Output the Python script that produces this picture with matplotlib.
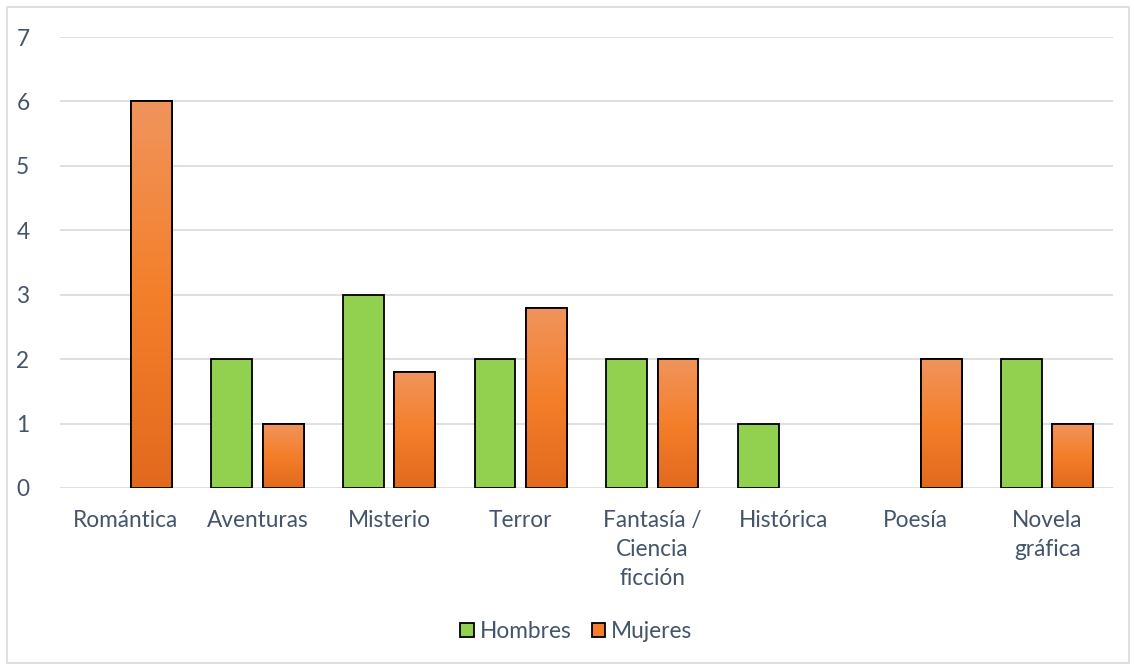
import matplotlib.pyplot as plt
import numpy as np
from matplotlib.colors import LinearSegmentedColormap
from matplotlib.patches import Rectangle, Patch

plt.rcParams['font.family'] = ['Lato', 'DejaVu Sans']

generos = ['Romántica', 'Aventuras', 'Misterio', 'Terror', 'Fantasía /\nCiencia\nficción',
           'Histórica', 'Poesía', 'Novela\ngráfica']
hombres = [0, 2, 3, 2, 2, 1, 0, 2]
mujeres = [6, 1, 1.8, 2.8, 2, 0, 2, 1]

texto = '#44546A'
verde = '#92D050'
naranja = '#F37D2C'
degradado = LinearSegmentedColormap.from_list('naranja', ['#E2691E', '#F47F2A', '#F0945C'])
tam = 16.3

fig = plt.figure(figsize=(11.34, 6.66), dpi=100)
ax = fig.add_axes([0.0529, 0.2673, 0.9286, 0.6771])

x = np.arange(len(generos))
ancho = 0.31
desp = 0.195

# sin borde en las barras de valor cero
bordes_h = ['black' if v > 0 else 'none' for v in hombres]
bordes_m = ['black' if v > 0 else 'none' for v in mujeres]
ax.bar(x - desp, hombres, ancho, color=verde, edgecolor=bordes_h, linewidth=1.3, zorder=3)
barras = ax.bar(x + desp, mujeres, ancho, color=naranja, edgecolor=bordes_m, linewidth=1.3, zorder=3)

# degradado vertical dentro de cada barra naranja
grad = np.linspace(0, 1, 256).reshape(-1, 1)
for b in barras:
    h = b.get_height()
    if h <= 0:
        continue
    x0 = b.get_x()
    im = ax.imshow(grad, cmap=degradado, origin='lower', aspect='auto',
                   extent=[x0, x0 + b.get_width(), 0, h], zorder=3.5)
    im.set_clip_path(b)
    borde = Rectangle((x0, 0), b.get_width(), h, fill=False, edgecolor='black',
                      linewidth=1.3, zorder=4)
    ax.add_patch(borde)

ax.set_xlim(-0.5, len(generos) - 0.5)
ax.set_ylim(0, 7)
ax.set_yticks(range(0, 8))
ax.set_xticks(x)
ax.set_xticklabels(generos, linespacing=1.45, va='top')
ax.tick_params(axis='both', length=0, labelsize=tam, colors=texto)
ax.tick_params(axis='x', pad=16)
ax.tick_params(axis='y', pad=22)
ax.grid(axis='y', color='#D9D9D9', linewidth=1.2, zorder=0)
ax.set_axisbelow(True)
for s in ax.spines.values():
    s.set_visible(False)

leyenda = [Patch(facecolor=verde, edgecolor='black', linewidth=1.3, label='Hombres'),
           Patch(facecolor=naranja, edgecolor='black', linewidth=1.3, label='Mujeres')]
fig.legend(handles=leyenda, loc='center', bbox_to_anchor=(0.508, 0.052), ncol=2, frameon=False,
           fontsize=tam, labelcolor=texto, handlelength=0.6, handleheight=0.6,
           handletextpad=0.25, columnspacing=0.9)

fig.add_artist(Rectangle((0.0065, 0.005), 0.9895, 0.985, transform=fig.transFigure,
                         fill=False, edgecolor='#D9D9D9', linewidth=1.2))

fig.savefig('out.png', dpi=100)
